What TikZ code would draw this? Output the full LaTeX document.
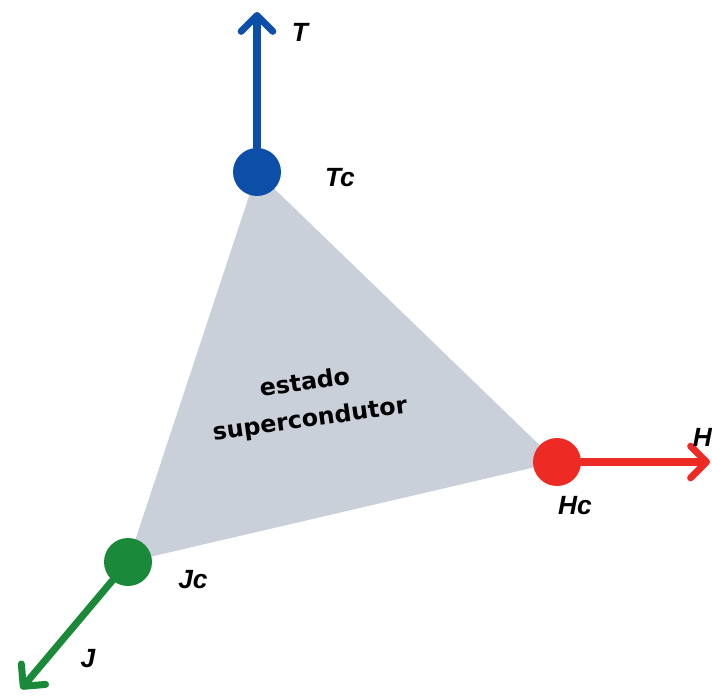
\documentclass[tikz,border=0pt]{standalone}
\usepackage{fontspec}
\setmainfont{Liberation Sans}
\newfontfamily\heavyfont{DejaVu Sans}
\usetikzlibrary{arrows.meta,backgrounds}

\definecolor{tblue}{HTML}{0D4FA8}
\definecolor{hred}{HTML}{EE2A24}
\definecolor{jgreen}{HTML}{1A8A3A}
\definecolor{stategray}{HTML}{C9D0DA}

\begin{document}
\begin{tikzpicture}[
    dot/.style     = {circle, fill=#1, minimum size=0.96cm, inner sep=0pt},
    axis/.style    = {#1, line width=4pt, line cap=round,
                      -{Straight Barb[length=9pt, width=18pt, line width=4pt,
                        round]}},
    lbl/.style     = {font=\fontsize{15}{17}\selectfont\bfseries\itshape},
    inner/.style   = {font=\heavyfont\fontsize{13.5}{21}\selectfont\bfseries,
                      align=center, rotate=8},
]
% fixed frame, 1px = 0.02cm
\useasboundingbox (0,0) rectangle (14.24,13.94);

% ----------------------------------------------------------
%  critical points
% ----------------------------------------------------------
\node[dot=tblue]  (Tc) at (5.14, 10.50) {};
\node[dot=hred]   (Hc) at (11.14, 4.70) {};
\node[dot=jgreen] (Jc) at (2.56, 2.70) {};

% axis ends
\coordinate (T) at (5.14, 13.70);
\coordinate (H) at (14.20, 4.70);
\coordinate (J) at (0.42, 0.16);

% ----------------------------------------------------------
%  superconducting region
% ----------------------------------------------------------
\begin{scope}[on background layer]
  \fill[stategray] (Tc.center) -- (Hc.center) -- (Jc.center) -- cycle;
\end{scope}
\node[inner] (state) at (6.15, 5.90) {estado\\supercondutor};

% ----------------------------------------------------------
%  axes
% ----------------------------------------------------------
\draw[axis=tblue]  (Tc) -- (T);
\draw[axis=hred]   (Hc) -- (H);
\draw[axis=jgreen] (Jc) -- (J);

% ----------------------------------------------------------
%  labels
% ----------------------------------------------------------
\node[lbl] (Tlbl)  at (6.0, 13.30) {T};
\node[lbl] (Tclbl) at (6.8, 10.38) {Tc};
\node[lbl] (Hlbl)  at (14.05, 5.20) {H};
\node[lbl] (Hclbl) at (11.5, 3.82) {Hc};
\node[lbl] (Jclbl) at (3.86, 2.34) {Jc};
\node[lbl] (Jlbl)  at (1.76, 0.76) {J};

\end{tikzpicture}
\end{document}
